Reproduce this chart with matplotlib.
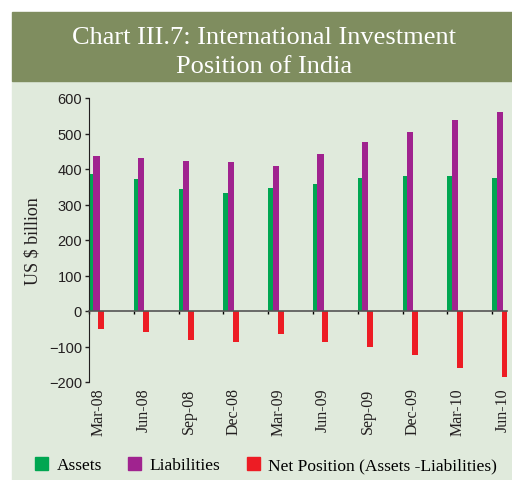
import numpy as np
import matplotlib
matplotlib.use('Agg')
import matplotlib.pyplot as plt
from matplotlib.patches import Rectangle, Patch
from matplotlib.transforms import ScaledTranslation

quarters = ['Mar-08', 'Jun-08', 'Sep-08', 'Dec-08', 'Mar-09',
            'Jun-09', 'Sep-09', 'Dec-09', 'Mar-10', 'Jun-10']
assets = [386, 372, 344, 332, 346, 358, 375, 380, 380, 375]
liabilities = [437, 431, 422, 420, 408, 442, 476, 504, 538, 561]
net_position = [-52, -58, -81, -87, -64, -87, -101, -123, -160, -185]

c_assets = '#00A651'
c_liab = '#A0238F'
c_net = '#ED1C24'
header_col = '#7F8D5F'
body_col = '#E0EADC'

fig = plt.figure(figsize=(5.12, 4.81), dpi=100)
fig.patch.set_facecolor('white')

# background panels (pixel coords -> figure fraction)
W, H = 512.0, 481.0
fig.patches.append(Rectangle((12 / W, 0), 1 - 12 / W, (H - 82) / H,
                             transform=fig.transFigure, color=body_col, zorder=-2))
fig.patches.append(Rectangle((12 / W, (H - 82) / H), 1 - 12 / W, 69 / H,
                             transform=fig.transFigure, color=header_col, zorder=-2))

fig.text(264 / W, 1 - 44 / H, 'Chart III.7: International Investment',
         color='white', fontsize=19, family='Liberation Serif',
         ha='center', va='baseline')
fig.text(264 / W, 1 - 73 / H, 'Position of India',
         color='white', fontsize=19, family='Liberation Serif',
         ha='center', va='baseline')

ax = fig.add_axes([89 / W, (H - 383) / H, (507 - 89) / W, (383 - 99) / H])
ax.set_facecolor('none')

x = np.arange(len(quarters))
bw = 0.135
ax.bar(x, assets, bw, align='edge', color=c_assets, label='Assets', zorder=2)
ax.bar(x + 0.1, liabilities, bw, align='edge', color=c_liab, label='Liabilities', zorder=2)
ax.bar(x + 0.21, net_position, bw, align='edge', color=c_net,
       label='Net Position (Assets -Liabilities)', zorder=2)

ax.set_ylim(-200, 600)
ax.set_xlim(0, 9.33)
ax.set_yticks(range(-200, 601, 100))
ax.tick_params(axis='y', direction='out', length=3, width=1, labelsize=10.5,
               colors='#231F20', pad=2)
for lab in ax.get_yticklabels():
    lab.set_family('Liberation Sans')

ax.spines['top'].set_visible(False)
ax.spines['right'].set_visible(False)
ax.spines['left'].set_color('#231F20')
ax.spines['bottom'].set_position(('data', 0))
ax.spines['bottom'].set_color('#555555')
ax.spines['bottom'].set_linewidth(1.2)

ax.set_xticks(x)
ax.set_xticklabels(quarters, rotation=90, fontsize=11.5, family='Liberation Serif',
                   color='#231F20')
ax.tick_params(axis='x', direction='out', length=2, width=1, pad=53)
for lab in ax.get_xticklabels():
    lab.set_transform(lab.get_transform() + ScaledTranslation(10 / 100, 0, fig.dpi_scale_trans))

ax.set_ylabel('US $ billion', fontsize=13, family='Liberation Serif', color='#231F20',
              labelpad=5)

handles = [Patch(color=c_assets), Patch(color=c_liab), Patch(color=c_net)]
labels = ['Assets', 'Liabilities', 'Net Position (Assets -Liabilities)']
fig.legend(handles, labels, loc='center', bbox_to_anchor=(266 / W, 1 - 466 / H),
           ncol=3, frameon=False, prop={'family': 'Liberation Serif', 'size': 12.5},
           handlelength=0.75, handleheight=0.75, handletextpad=0.5, columnspacing=1.5)

fig.savefig('out.png', dpi=100, facecolor=fig.get_facecolor())
